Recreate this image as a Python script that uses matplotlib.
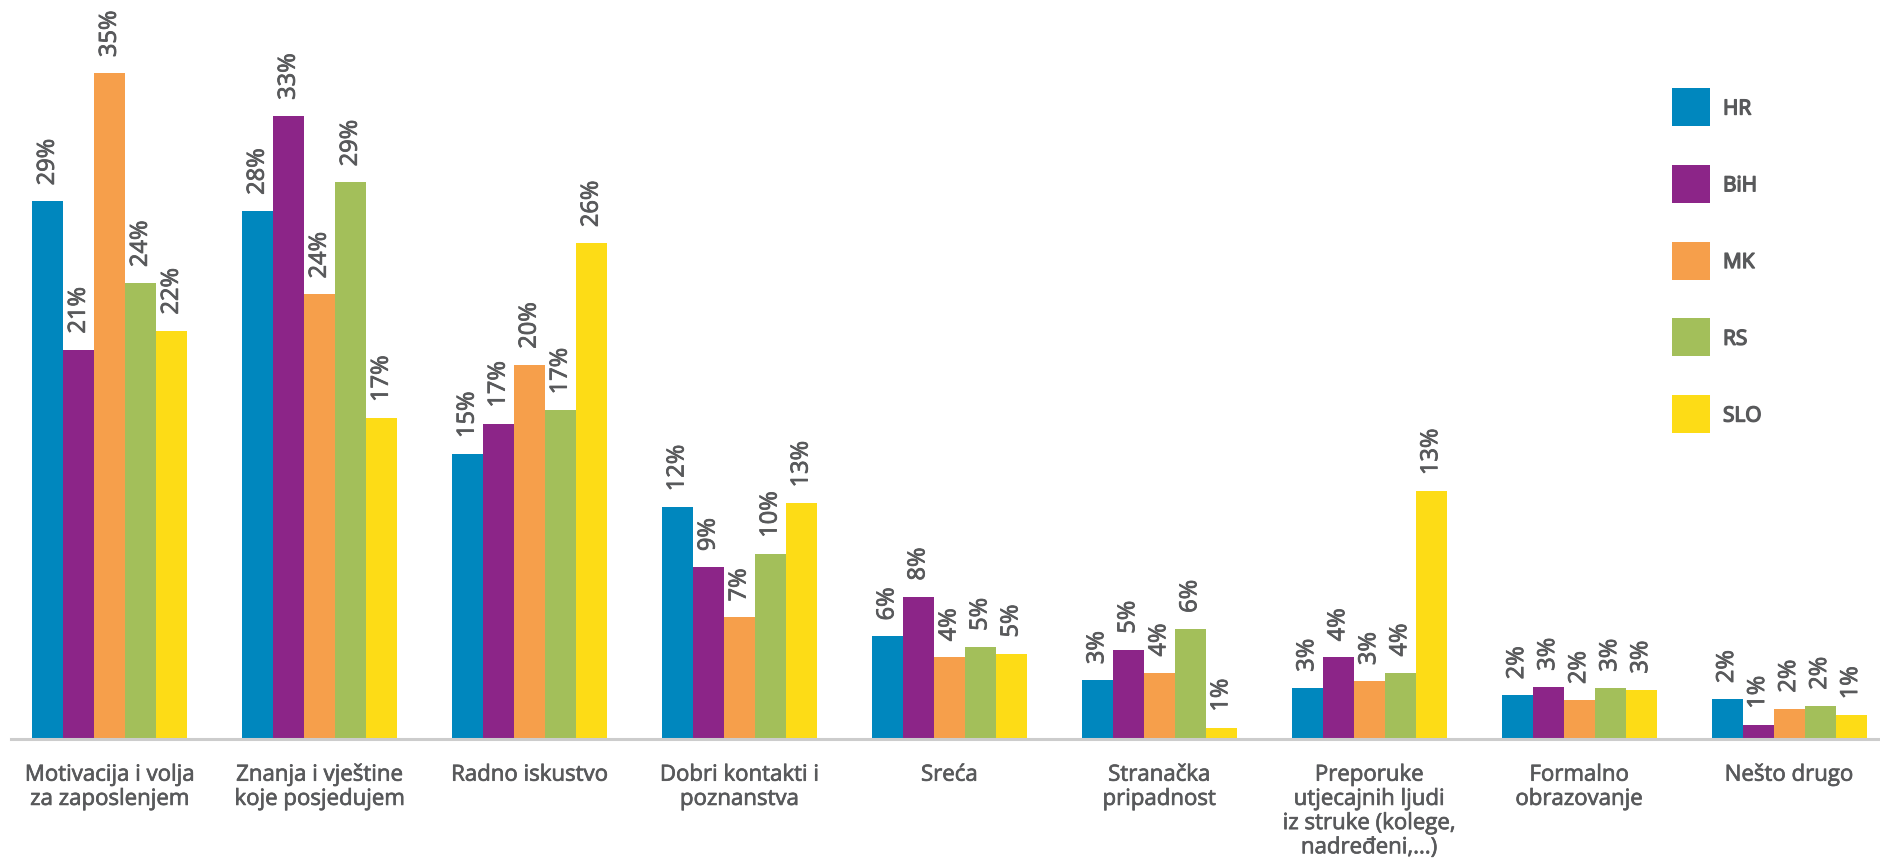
import matplotlib
matplotlib.use("Agg")
import matplotlib.pyplot as plt
import matplotlib.patheffects as pe
from matplotlib.patches import Rectangle
import numpy as np

plt.rcParams['font.family'] = ['Open Sans', 'DejaVu Sans']

categories = ["Motivacija i volja\nza zaposlenjem",
              "Znanja i vještine\nkoje posjedujem",
              "Radno iskustvo",
              "Dobri kontakti i\npoznanstva",
              "Sreća",
              "Stranačka\npripadnost",
              "Preporuke\nutjecajnih ljudi\niz struke (kolege,\nnadređeni,...)",
              "Formalno\nobrazovanje",
              "Nešto drugo"]

countries = ['HR', 'BiH', 'MK', 'RS', 'SLO']
colors = ['#0087be', '#8c2588', '#f69f4b', '#a3bf5a', '#fddc16']

# bar heights and the printed percentages
hr = [28.3, 27.8, 15.0, 12.2, 5.4, 3.1, 2.7, 2.3, 2.1]
bih = [20.5, 32.8, 16.6, 9.05, 7.5, 4.7, 4.3, 2.75, 0.75]
mk = [35.05, 23.4, 19.7, 6.4, 4.3, 3.5, 3.05, 2.05, 1.6]
rs = [24.0, 29.3, 17.3, 9.75, 4.85, 5.8, 3.5, 2.7, 1.75]
slo = [21.5, 16.9, 26.1, 12.4, 4.5, 0.6, 13.05, 2.6, 1.25]

hr_labels = [29, 28, 15, 12, 6, 3, 3, 2, 2]
bih_labels = [21, 33, 17, 9, 8, 5, 4, 3, 1]
mk_labels = [35, 24, 20, 7, 4, 4, 3, 2, 2]
rs_labels = [24, 29, 17, 10, 5, 6, 4, 3, 2]
slo_labels = [22, 17, 26, 13, 5, 1, 13, 3, 1]

series = [hr, bih, mk, rs, slo]
labels = [hr_labels, bih_labels, mk_labels, rs_labels, slo_labels]

text_color = '#58595b'
W, H = 1881, 862

fig = plt.figure(figsize=(W/100, H/100), dpi=100)
ax = fig.add_axes([11/W, 122/H, 1870/W, 740/H])

x = np.arange(len(categories))
width = 0.1477
for i, (vals, labs) in enumerate(zip(series, labels)):
    bars = ax.bar(x + (i - 2) * width, vals, width, color=colors[i],
                  label=countries[i], linewidth=0)
    texts = ax.bar_label(bars, labels=[str(l) + '%' for l in labs], rotation=90,
                         padding=11.5, fontsize=17, color=text_color)
    for t in texts:
        t.set_path_effects([pe.withStroke(linewidth=0.6, foreground=text_color)])

ax.set_xlim(-0.4707, 8.438)
ax.set_ylim(0, 740/19)
ax.set_yticks([])
ax.set_xticks(x)
ax.set_xticklabels(categories, fontsize=16, color=text_color, linespacing=1.2)
ax.tick_params(axis='x', length=0, pad=18.5)
for t in ax.get_xticklabels():
    t.set_path_effects([pe.withStroke(linewidth=0.5, foreground=text_color)])

for side in ['top', 'right', 'left']:
    ax.spines[side].set_visible(False)
ax.spines['bottom'].set_color('#cccccc')
ax.spines['bottom'].set_linewidth(2.2)

# legend: coloured squares with the country names next to them
for i, name in enumerate(countries):
    top = 89 + i * 76.75
    fig.add_artist(Rectangle((1672/W, 1 - (top + 38)/H), 38/W, 38/H,
                             transform=fig.transFigure, color=colors[i], lw=0))
    fig.text(1723/W, 1 - (top + 21)/H, name, fontsize=15, color=text_color,
             va='center', ha='left',
             path_effects=[pe.withStroke(linewidth=1.0, foreground=text_color)])

fig.savefig('out.png', dpi=100)
